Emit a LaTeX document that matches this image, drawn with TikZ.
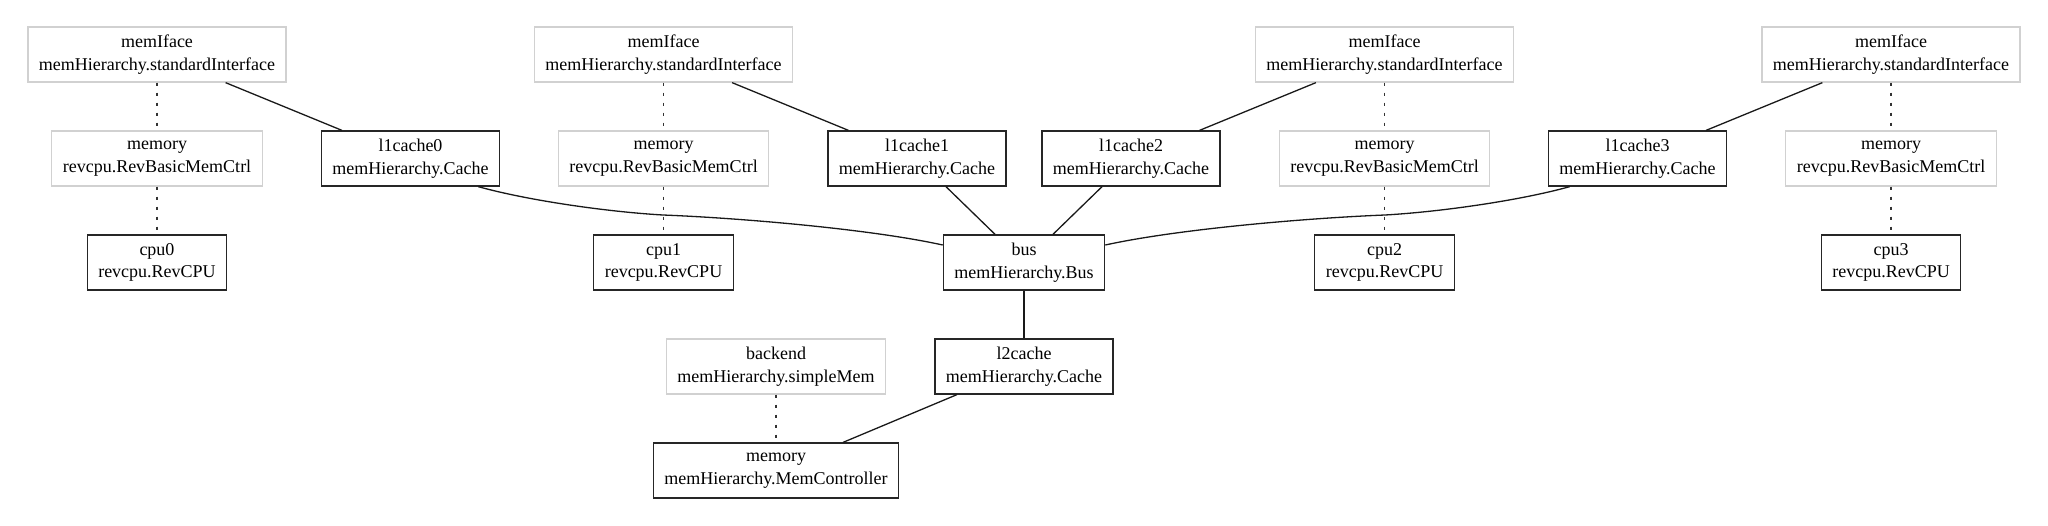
\documentclass[tikz,border=0pt]{standalone}
\usepackage{fontspec}
\setmainfont{Liberation Serif}
\begin{document}
\begin{tikzpicture}[x=1pt,y=-1pt,
  comp/.style={draw=black!85,line width=1.3pt,align=center,inner xsep=11pt,inner ysep=0pt,
    minimum height=55pt,font=\fontsize{18}{22.4}\selectfont},
  sub/.style={comp,draw=black!18},
  link/.style={line width=1.3pt,draw=black!90},
  dotlink/.style={line width=1.6pt,draw=black!80,dash pattern=on 3pt off 7pt}]
\useasboundingbox (0,0) rectangle (2048,525);
% column 0
\node[sub]  (mi0) at (157,54.5)  {memIface\\memHierarchy.standardInterface};
\node[sub]  (mm0) at (157,158.5) {memory\\revcpu.RevBasicMemCtrl};
\node[comp] (cpu0) at (157,262.5) {cpu0\\revcpu.RevCPU};
\node[comp] (l0) at (410.5,158.5) {l1cache0\\memHierarchy.Cache};
% column 1
\node[sub]  (mi1) at (663.5,54.5)  {memIface\\memHierarchy.standardInterface};
\node[sub]  (mm1) at (663.5,158.5) {memory\\revcpu.RevBasicMemCtrl};
\node[comp] (cpu1) at (663.5,262.5) {cpu1\\revcpu.RevCPU};
\node[comp] (l1) at (917,158.5) {l1cache1\\memHierarchy.Cache};
% column 2
\node[comp] (l2) at (1131,158.5) {l1cache2\\memHierarchy.Cache};
\node[sub]  (mi2) at (1384.5,54.5)  {memIface\\memHierarchy.standardInterface};
\node[sub]  (mm2) at (1384.5,158.5) {memory\\revcpu.RevBasicMemCtrl};
\node[comp] (cpu2) at (1384.5,262.5) {cpu2\\revcpu.RevCPU};
% column 3
\node[comp] (l3) at (1637.5,158.5) {l1cache3\\memHierarchy.Cache};
\node[sub]  (mi3) at (1891,54.5)  {memIface\\memHierarchy.standardInterface};
\node[sub]  (mm3) at (1891,158.5) {memory\\revcpu.RevBasicMemCtrl};
\node[comp] (cpu3) at (1891,262.5) {cpu3\\revcpu.RevCPU};
% centre
\node[comp] (bus) at (1024,262.5) {bus\\memHierarchy.Bus};
\node[comp] (l2c) at (1024,366.5) {l2cache\\memHierarchy.Cache};
\node[sub]  (be) at (776,366.5) {backend\\memHierarchy.simpleMem};
\node[comp] (mc) at (776,470.5) {memory\\memHierarchy.MemController};
% dotted links
\foreach \i in {0,1,2,3}{
  \draw[dotlink] (mi\i) -- (mm\i);
  \draw[dotlink] (mm\i) -- (cpu\i);
}
\draw[dotlink] (be) -- (mc);
% solid links
\draw[link] (mi0) -- (l0);
\draw[link] (mi1) -- (l1);
\draw[link] (mi2) -- (l2);
\draw[link] (mi3) -- (l3);
\draw[link] (l1) -- (bus);
\draw[link] (l2) -- (bus);
\draw[link] (bus) -- (l2c);
\draw[link] (l2c) -- (mc);
\draw[link] ([xshift=-22pt]l0.south east) .. controls (530,201) and (610,212) .. (663,215)
   .. controls (740,218) and (870,229) .. ([yshift=17.5pt]bus.west);
\draw[link] ([xshift=22pt]l3.south west) .. controls (1518,201) and (1438,212) .. (1385,215)
   .. controls (1308,218) and (1178,229) .. ([yshift=17.5pt]bus.east);
\end{tikzpicture}
\end{document}
